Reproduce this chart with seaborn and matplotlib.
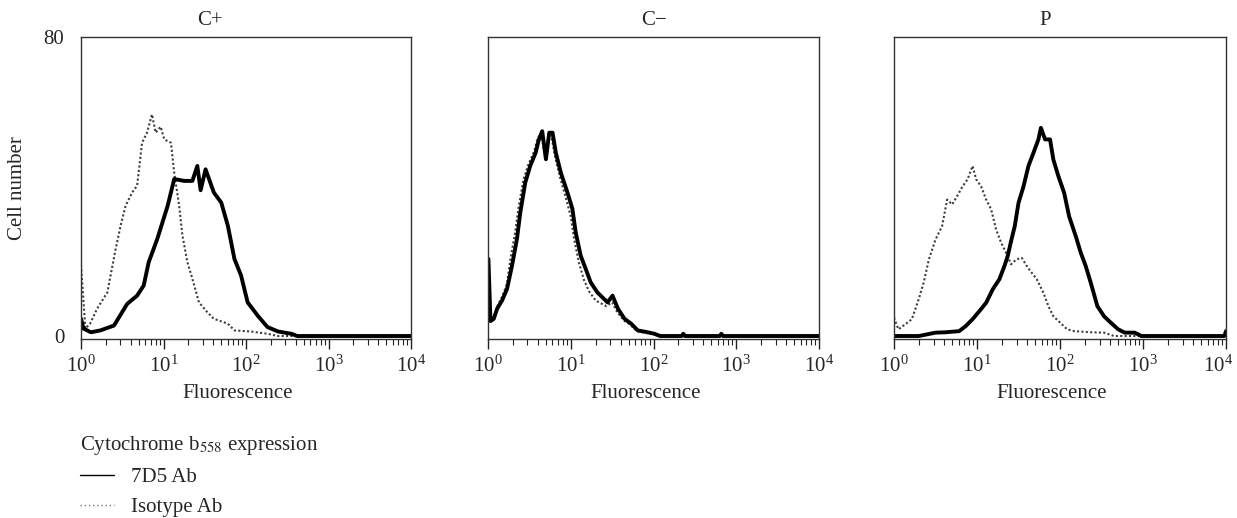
import numpy as np
import pandas as pd
import matplotlib
matplotlib.use("Agg")
import matplotlib.pyplot as plt
from matplotlib.lines import Line2D
from matplotlib.ticker import LogLocator, FixedLocator
from matplotlib.transforms import ScaledTranslation
import seaborn as sns

# ---------------- data ----------------
panels = ["C+", "C\u2212", "P"]

# C+ : 7D5 Ab (solid)
cp_solid_log = [0.00, 0.03, 0.12, 0.235, 0.40, 0.56, 0.68, 0.76, 0.82, 0.925, 1.05, 1.13, 1.25,
                1.35, 1.41, 1.45, 1.51, 1.61, 1.70, 1.78, 1.86, 1.94, 2.02, 2.14, 2.26,
                2.39, 2.55, 2.62, 4.00]
cp_solid_val = [4.6, 2.0, 1.0, 1.5, 2.8, 8.6, 10.8, 13.5, 19.7, 26.0, 34.8, 42.0, 41.5,
                41.5, 45.5, 39.0, 44.6, 38.4, 35.7, 29.5, 20.6, 16.2, 9.0, 5.5, 2.4,
                1.2, 0.6, 0.0, 0.0]
# C+ : Isotype Ab (dotted)
cp_iso_log = [0.00, 0.053, 0.11, 0.195, 0.32, 0.42, 0.48, 0.54, 0.62, 0.68, 0.74, 0.80, 0.86,
              0.905, 0.965, 1.01, 1.09, 1.13, 1.19, 1.23, 1.29, 1.35, 1.43, 1.53, 1.61,
              1.78, 1.86, 2.06, 2.26, 2.39, 4.00]
cp_iso_val = [19.0, 2.0, 3.3, 7.3, 11.7, 23.3, 29.5, 34.8, 38.4, 40.2, 51.7, 54.4, 59.3,
              54.4, 56.0, 52.6, 51.7, 43.7, 34.8, 26.8, 19.7, 15.3, 9.0, 6.4, 4.6,
              3.3, 1.5, 1.2, 0.6, 0.0, 0.0]

# C- : 7D5 Ab (solid)
cm_solid_log = [0.00, 0.005, 0.03, 0.07, 0.11, 0.17, 0.23, 0.29, 0.35, 0.39, 0.45, 0.51, 0.575,
                0.615, 0.655, 0.70, 0.74, 0.78, 0.82, 0.88, 0.96, 1.02, 1.06, 1.12, 1.18,
                1.24, 1.32, 1.445, 1.505, 1.57, 1.65, 1.73, 1.81, 1.93, 2.01, 2.08, 2.34,
                2.36, 2.38, 2.80, 2.82, 2.84, 4.00]
cm_solid_val = [20.6, 20.6, 4.0, 4.6, 7.3, 9.5, 12.6, 18.8, 26.0, 33.0, 41.0, 45.5, 49.0,
                52.6, 54.8, 47.3, 54.4, 54.4, 49.0, 43.7, 38.4, 34.0, 27.7, 21.5, 18.0,
                14.4, 11.7, 9.0, 10.8, 7.3, 4.6, 3.3, 1.5, 1.0, 0.6, 0.0, 0.0,
                0.6, 0.0, 0.0, 0.6, 0.0, 0.0]
# C- : Isotype Ab (dotted)
cm_iso_log = [0.00, 0.03, 0.07, 0.11, 0.17, 0.23, 0.27, 0.33, 0.37, 0.43, 0.49, 0.56, 0.60,
              0.645, 0.69, 0.73, 0.77, 0.81, 0.87, 0.94, 1.00, 1.04, 1.10, 1.16, 1.22,
              1.30, 1.43, 1.50, 1.56, 1.64, 1.72, 1.80, 1.92, 2.00, 2.07, 4.00]
cm_iso_val = [18.0, 4.5, 5.0, 7.8, 10.5, 14.0, 20.5, 28.0, 34.5, 42.0, 46.0, 49.5, 53.0,
              54.0, 48.0, 53.5, 53.0, 48.0, 42.5, 37.0, 32.0, 26.0, 19.5, 15.0, 12.0,
              9.5, 8.0, 9.0, 6.5, 4.2, 3.0, 1.3, 0.8, 0.5, 0.0, 0.0]

# P : 7D5 Ab (solid)
p_solid_log = [0.00, 0.30, 0.50, 0.62, 0.785, 0.866, 0.947, 1.03, 1.11, 1.19, 1.27, 1.33,
               1.37, 1.415, 1.455, 1.50, 1.56, 1.62, 1.68, 1.74, 1.77, 1.82, 1.88, 1.92,
               1.98, 2.05, 2.11, 2.19, 2.25, 2.31, 2.37, 2.45, 2.53, 2.61, 2.70, 2.78,
               2.90, 2.98, 3.98, 4.00]
p_solid_val = [0.0, 0.0, 0.9, 1.0, 1.3, 2.7, 4.5, 6.7, 8.9, 12.5, 15.2, 18.7,
               21.4, 25.8, 29.4, 35.6, 40.0, 45.5, 49.0, 52.6, 55.7, 52.6, 52.6, 47.2,
               42.8, 38.3, 32.0, 26.7, 22.3, 18.7, 14.3, 8.0, 5.3, 3.6, 1.8, 0.9,
               0.9, 0.0, 0.0, 1.3]
# P : Isotype Ab (dotted)
p_iso_log = [0.00, 0.053, 0.134, 0.215, 0.297, 0.358, 0.42, 0.50, 0.58, 0.64, 0.70, 0.76,
             0.825, 0.886, 0.947, 0.99, 1.05, 1.11, 1.17, 1.23, 1.29, 1.35, 1.41, 1.475,
             1.54, 1.60, 1.66, 1.72, 1.80, 1.86, 1.92, 2.00, 2.085, 2.17, 2.37, 2.53,
             2.65, 4.00]
p_iso_val = [4.9, 1.8, 3.1, 4.5, 9.8, 14.3, 20.5, 25.8, 29.4, 36.5, 35.2, 37.4,
             40.0, 41.9, 45.5, 41.9, 40.0, 36.5, 33.9, 28.5, 25.0, 22.3, 19.2, 20.5,
             20.9, 18.7, 16.9, 15.2, 11.6, 8.0, 5.3, 3.6, 1.8, 1.3, 1.0, 0.9,
             0.0, 0.0]

series = {
    "C+": [(cp_iso_log, cp_iso_val), (cp_solid_log, cp_solid_val)],
    "C\u2212": [(cm_iso_log, cm_iso_val), (cm_solid_log, cm_solid_val)],
    "P": [(p_iso_log, p_iso_val), (p_solid_log, p_solid_val)],
}

legend_title = "Cytochrome b$_{558}$ expression"
legend_labels = ["7D5 Ab", "Isotype Ab"]
y_ticks = [0, 80]
x_label = "Fluorescence"
y_label = "Cell number"

# ---------------- style ----------------
sns.set_theme(style="ticks")
plt.rcParams["font.family"] = ["Liberation Serif", "DejaVu Serif"]
plt.rcParams["mathtext.fontset"] = "stix"
FS = 15
plt.rcParams["font.size"] = FS

W, H = 1237, 518
fig = plt.figure(figsize=(W / 100, H / 100), dpi=100)

ax_px = [(81, 330), (488, 331), (894, 332)]
top_px, bot_px = 37, 339
title_x = [0.39, 0.5, 0.455]

solid_kw = dict(color="black", lw=2.8)
iso_kw = dict(color="#3c3c3c", lw=1.5, ls=(0, (1, 1.1)))

axes = []
for i, name in enumerate(panels):
    left, width = ax_px[i]
    ax = fig.add_axes([left / W, (H - bot_px) / H, width / W, (bot_px - top_px) / H])
    axes.append(ax)
    (ilog, ival), (slog, sval) = series[name]
    df_iso = pd.DataFrame({"x": np.power(10.0, ilog), "y": ival})
    df_sol = pd.DataFrame({"x": np.power(10.0, slog), "y": sval})
    sns.lineplot(data=df_iso, x="x", y="y", ax=ax, estimator=None, sort=False, **iso_kw)
    sns.lineplot(data=df_sol, x="x", y="y", ax=ax, estimator=None, sort=False, **solid_kw)
    ax.set_xscale("log")
    ax.set_xlim(1, 1e4)
    ax.set_ylim(-0.8, 80)
    ax.xaxis.set_major_locator(LogLocator(base=10, numticks=10))
    ax.xaxis.set_minor_locator(LogLocator(base=10, subs=np.arange(2, 10), numticks=20))
    ax.tick_params(axis="x", which="major", length=7, width=1, direction="out",
                   labelsize=FS, pad=5, color="#222222")
    ax.tick_params(axis="x", which="minor", length=4, width=0.8, direction="out",
                   color="#222222")
    if i == 0:
        ax.yaxis.set_major_locator(FixedLocator(y_ticks))
        ax.set_yticklabels([str(t) for t in y_ticks])
        ax.tick_params(axis="y", length=0, pad=12, labelsize=FS)
        ax.set_ylabel(y_label, fontsize=FS, labelpad=12)
    else:
        ax.set_yticks([])
        ax.set_ylabel("")
    ax.set_xlabel(x_label, fontsize=FS)
    ax.xaxis.set_label_coords(0.475, -0.148)
    ax.set_title(name, fontsize=FS, x=title_x[i], pad=9)
    for s in ax.spines.values():
        s.set_visible(True)
        s.set_linewidth(1.0)
        s.set_color("#333333")
    ax.grid(False)

handles = [Line2D([], [], color="black", lw=1.0),
           Line2D([], [], color="#777777", lw=1.0, ls=(0, (1, 2)))]
leg = fig.legend(handles, legend_labels, title=legend_title, loc="upper left",
                 bbox_to_anchor=(80 / W, 1 - 434 / H), frameon=False, alignment="left",
                 fontsize=FS, title_fontsize=FS, handlelength=1.65, handletextpad=0.8,
                 labelspacing=0.5, borderpad=0, borderaxespad=0)

# keep the last tick label of the right-hand panel inside the figure (as in the reference)
fig.canvas.draw()
for t in axes[-1].xaxis.get_major_ticks():
    if np.isclose(t.get_loc(), 1e4):
        t.label1.set_transform(t.label1.get_transform()
                               + ScaledTranslation(-0.08, 0, fig.dpi_scale_trans))

fig.savefig("out.png", dpi=100)
